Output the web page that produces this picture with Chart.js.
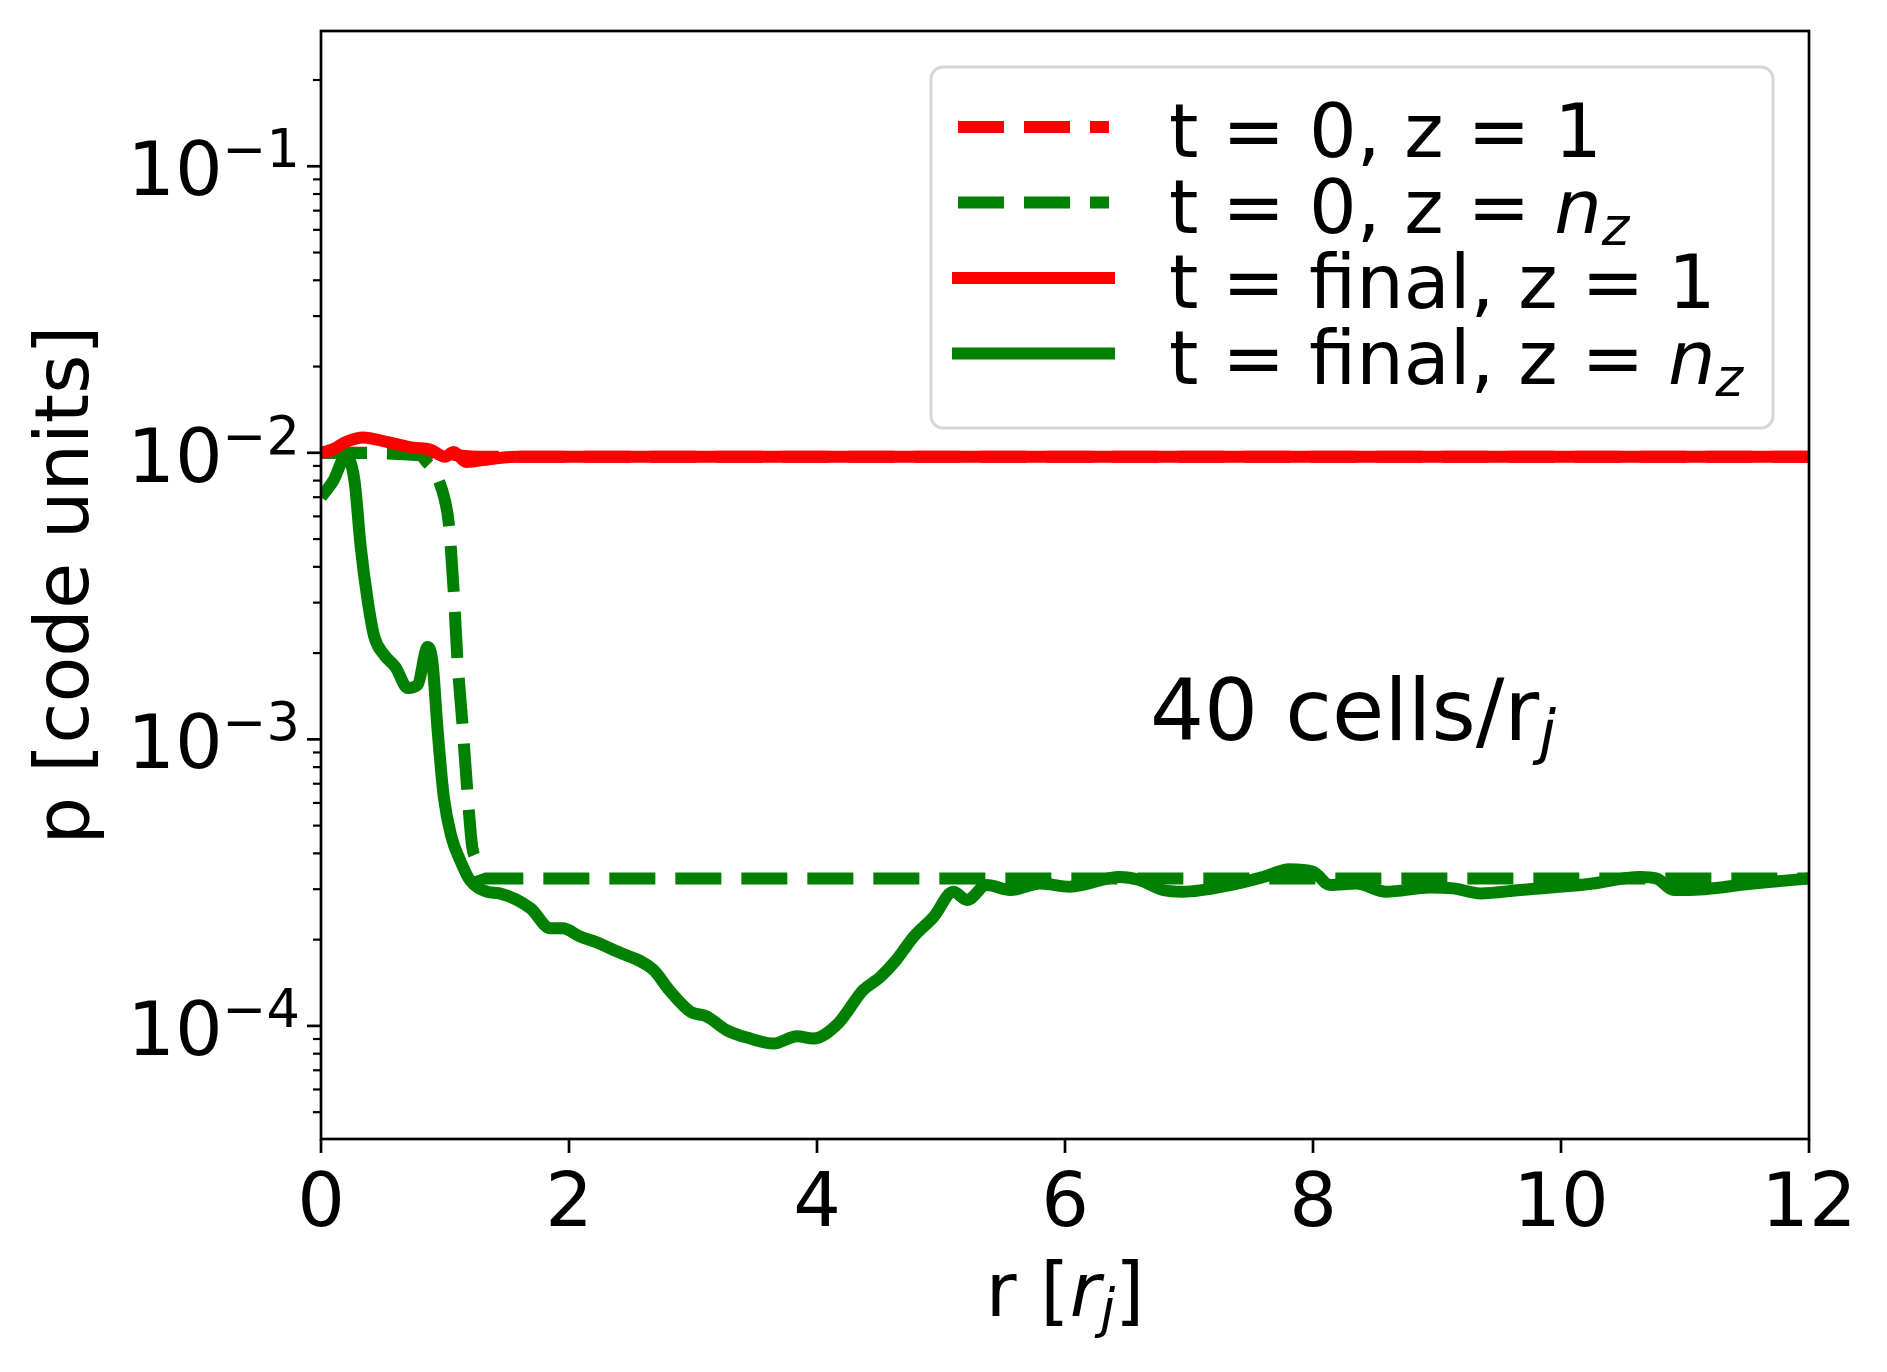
<!DOCTYPE html>
<html>
<head>
<meta charset="utf-8">
<script src="https://cdn.jsdelivr.net/npm/chart.js@4.4.0/dist/chart.umd.min.js"></script>
<style>
  html, body { margin: 0; padding: 0; background: #fff; }
</style>
</head>
<body>
<canvas id="myChart" width="1887" height="1372"></canvas>
<script>
// t = 0, z = 1 (hidden under the final red line)
const rInitZ1 = [0, 0.95, 1.1, 1.3, 12];
const pInitZ1 = [0.0100, 0.0100, 0.0098, 0.00968, 0.00968];

// t = 0, z = n_z
const rInitNz = [0, 0.8, 0.85, 0.9, 0.95, 1.0, 1.03, 1.07, 1.1, 1.14, 1.18, 1.22, 1.25, 1.28, 1.32, 12];
const pInitNz = [0.0100, 0.0098, 0.0093, 0.0088, 0.0080, 0.0068, 0.0057, 0.0033, 0.0019, 0.00114,
  0.00066, 0.00042, 0.00038, 0.000335, 0.000327, 0.000327];

// t = final, z = 1
const rFinalZ1 = [0, 0.1, 0.2, 0.34, 0.53, 0.74, 0.88, 1.0, 1.07, 1.17, 1.39, 1.6, 12];
const pFinalZ1 = [0.0100, 0.0103, 0.0109, 0.01131, 0.01092, 0.01043, 0.01027, 0.00969, 0.01007,
  0.00929, 0.00954, 0.00968, 0.00968];

// t = final, z = n_z
const rFinalNz = [0, 0.1, 0.2, 0.27, 0.32, 0.38, 0.43, 0.51, 0.6, 0.7, 0.78, 0.86, 0.9, 0.94, 0.99,
  1.05, 1.12, 1.2, 1.34, 1.44, 1.69, 1.85, 1.95, 2.09, 2.22, 2.36, 2.68, 2.81, 2.98, 3.11, 3.27,
  3.46, 3.65, 3.84, 3.97, 4.17, 4.37, 4.51, 4.64, 4.78, 4.94, 5.10, 5.21, 5.37, 5.56, 5.80, 6.04,
  6.44, 6.60, 6.79, 6.95, 7.33, 7.60, 7.81, 8.00, 8.14, 8.35, 8.59, 8.94, 9.13, 9.35, 9.67, 10.21,
  10.64, 10.77, 10.91, 11.01, 11.55, 12.0];
const pFinalNz = [7.0e-3, 8.0e-3, 9.7e-3, 8.0e-3, 4.7e-3, 2.98e-3, 2.28e-3, 1.97e-3, 1.79e-3, 1.51e-3,
  1.55e-3, 2.10e-3, 1.84e-3, 1.08e-3, 6.3e-4, 4.6e-4, 3.8e-4, 3.23e-4, 2.94e-4, 2.90e-4, 2.57e-4,
  2.19e-4, 2.19e-4, 2.05e-4, 1.96e-4, 1.84e-4, 1.57e-4, 1.33e-4, 1.12e-4, 1.08e-4, 9.67e-5, 9.04e-5,
  8.68e-5, 9.2e-5, 9.04e-5, 1.02e-4, 1.33e-4, 1.48e-4, 1.70e-4, 2.05e-4, 2.40e-4, 2.94e-4, 2.75e-4,
  3.10e-4, 2.98e-4, 3.14e-4, 3.06e-4, 3.31e-4, 3.23e-4, 2.98e-4, 2.94e-4, 3.10e-4, 3.31e-4, 3.52e-4,
  3.45e-4, 3.10e-4, 3.14e-4, 2.94e-4, 3.04e-4, 3.02e-4, 2.90e-4, 2.98e-4, 3.12e-4, 3.31e-4, 3.27e-4,
  2.98e-4, 2.98e-4, 3.14e-4, 3.27e-4];

const xTicks = [0, 2, 4, 6, 8, 10, 12];
const yDecades = [-1, -2, -3, -4];

const FONT = '"DejaVu Sans", sans-serif';
const BIG = 75;
const SMALL = 52.5;

const toPoints = (xs, ys) => xs.map((x, i) => ({ x: x, y: ys[i] }));

// draw a run of text pieces (normal / italic / raised / lowered)
function drawRuns(ctx, runs, x, y, align) {
  let total = 0;
  runs.forEach((r) => {
    ctx.font = (r.italic ? "italic " : "") + (r.size || BIG) + "px " + FONT;
    r.w = ctx.measureText(r.t).width;
    total += r.w;
  });
  let cx = x;
  if (align === "right") cx = x - total;
  if (align === "center") cx = x - total / 2;
  ctx.textAlign = "left";
  ctx.textBaseline = "alphabetic";
  runs.forEach((r) => {
    ctx.font = (r.italic ? "italic " : "") + (r.size || BIG) + "px " + FONT;
    ctx.fillText(r.t, cx, y + (r.dy || 0));
    cx += r.w;
  });
}

const decorPlugin = {
  id: "decor",
  afterDraw(chart) {
    const ctx = chart.ctx;
    const ca = chart.chartArea;
    const xs = chart.scales.x;
    const ys = chart.scales.y;
    ctx.save();
    ctx.fillStyle = "#000";
    ctx.strokeStyle = "#000";

    // spines
    ctx.lineWidth = 2.7;
    ctx.strokeRect(ca.left, ca.top, ca.right - ca.left, ca.bottom - ca.top);

    // x ticks
    xTicks.forEach((v) => {
      const px = xs.getPixelForValue(v);
      ctx.beginPath();
      ctx.moveTo(px, ca.bottom);
      ctx.lineTo(px, ca.bottom + 14);
      ctx.stroke();
      ctx.font = BIG + "px " + FONT;
      ctx.textAlign = "center";
      ctx.textBaseline = "alphabetic";
      ctx.fillText(String(v), px, ca.bottom + 87);
    });

    // y minor ticks
    ctx.lineWidth = 2.2;
    for (let d = -5; d <= 0; d++) {
      for (let m = 2; m <= 9; m++) {
        const v = m * Math.pow(10, d);
        if (v < ys.min || v > ys.max) continue;
        const py = ys.getPixelForValue(v);
        ctx.beginPath();
        ctx.moveTo(ca.left - 8, py);
        ctx.lineTo(ca.left, py);
        ctx.stroke();
      }
    }

    // y major ticks and labels
    ctx.lineWidth = 2.7;
    yDecades.forEach((k) => {
      const py = ys.getPixelForValue(Math.pow(10, k));
      ctx.beginPath();
      ctx.moveTo(ca.left - 14, py);
      ctx.lineTo(ca.left, py);
      ctx.stroke();
      drawRuns(ctx, [
        { t: "10" },
        { t: "\u2212" + (-k), size: SMALL, dy: -28 }
      ], ca.left - 21, py + 29, "right");
    });

    // axis titles
    drawRuns(ctx, [
      { t: "r [" },
      { t: "r", italic: true },
      { t: "j", italic: true, size: SMALL, dy: 11 },
      { t: "]" }
    ], (ca.left + ca.right) / 2, 1316, "center");

    ctx.save();
    ctx.translate(88, (ca.top + ca.bottom) / 2);
    ctx.rotate(-Math.PI / 2);
    ctx.font = BIG + "px " + FONT;
    ctx.textAlign = "center";
    ctx.textBaseline = "alphabetic";
    ctx.fillText("p [code units]", 0, 0);
    ctx.restore();

    // annotation
    drawRuns(ctx, [
      { t: "40 cells/r", size: 85 },
      { t: "j", italic: true, size: 60, dy: 13 }
    ], 1150, 740, "left");

    // legend
    ctx.beginPath();
    ctx.roundRect(931, 67, 842, 361, 12);
    ctx.fillStyle = "rgba(255,255,255,0.8)";
    ctx.fill();
    ctx.lineWidth = 3;
    ctx.strokeStyle = "#d6d6d6";
    ctx.stroke();

    chart.data.datasets.forEach((ds) => {
      const rowY = 127 + ds.legendRow * 75.5;
      ctx.beginPath();
      ctx.lineWidth = 12;
      ctx.strokeStyle = ds.borderColor;
      ctx.setLineDash(ds.borderDash || []);
      ctx.lineCap = ds.borderDash ? "butt" : "square";
      ctx.moveTo(958, rowY);
      ctx.lineTo(1109, rowY);
      ctx.stroke();
      ctx.setLineDash([]);
      ctx.fillStyle = "#000";
      drawRuns(ctx, ds.legendRuns, 1169, rowY + 30, "left");
    });

    ctx.restore();
  },
};

const ctx = document.getElementById("myChart");
const chart = new Chart(ctx, {
  type: "line",
  data: {
    datasets: [
      {
        label: "t = 0, z = 1",
        data: toPoints(rInitZ1, pInitZ1),
        borderColor: "#ff0000",
        borderDash: [46, 20],
        order: 3,
        legendRow: 0,
        legendRuns: [{ t: "t = 0, z = 1" }],
      },
      {
        label: "t = 0, z = n_z",
        data: toPoints(rInitNz, pInitNz),
        borderColor: "#008000",
        borderDash: [46, 20],
        order: 2,
        legendRow: 1,
        legendRuns: [{ t: "t = 0, z = " }, { t: "n", italic: true }, { t: "z", italic: true, size: SMALL, dy: 12 }],
      },
      {
        label: "t = final, z = 1",
        data: toPoints(rFinalZ1, pFinalZ1),
        borderColor: "#ff0000",
        order: 0,
        legendRow: 2,
        legendRuns: [{ t: "t = final, z = 1" }],
      },
      {
        label: "t = final, z = n_z",
        data: toPoints(rFinalNz, pFinalNz),
        borderColor: "#008000",
        order: 1,
        legendRow: 3,
        legendRuns: [{ t: "t = final, z = " }, { t: "n", italic: true }, { t: "z", italic: true, size: SMALL, dy: 12 }],
      },
    ],
  },
  options: {
    responsive: false,
    devicePixelRatio: 1,
    animation: false,
    layout: { padding: { left: 321, top: 31, right: 78, bottom: 233 } },
    elements: {
      point: { radius: 0 },
      line: {
        borderWidth: 12,
        cubicInterpolationMode: "monotone",
        borderJoinStyle: "round",
        fill: false,
      },
    },
    datasets: { line: { clip: 0 } },
    scales: {
      x: { type: "linear", min: 0, max: 12, display: false },
      y: { type: "logarithmic", min: 4.03e-5, max: 0.2965, display: false },
    },
    plugins: {
      legend: { display: false },
      tooltip: { enabled: false },
    },
  },
  plugins: [decorPlugin],
});
</script>
</body>
</html>
